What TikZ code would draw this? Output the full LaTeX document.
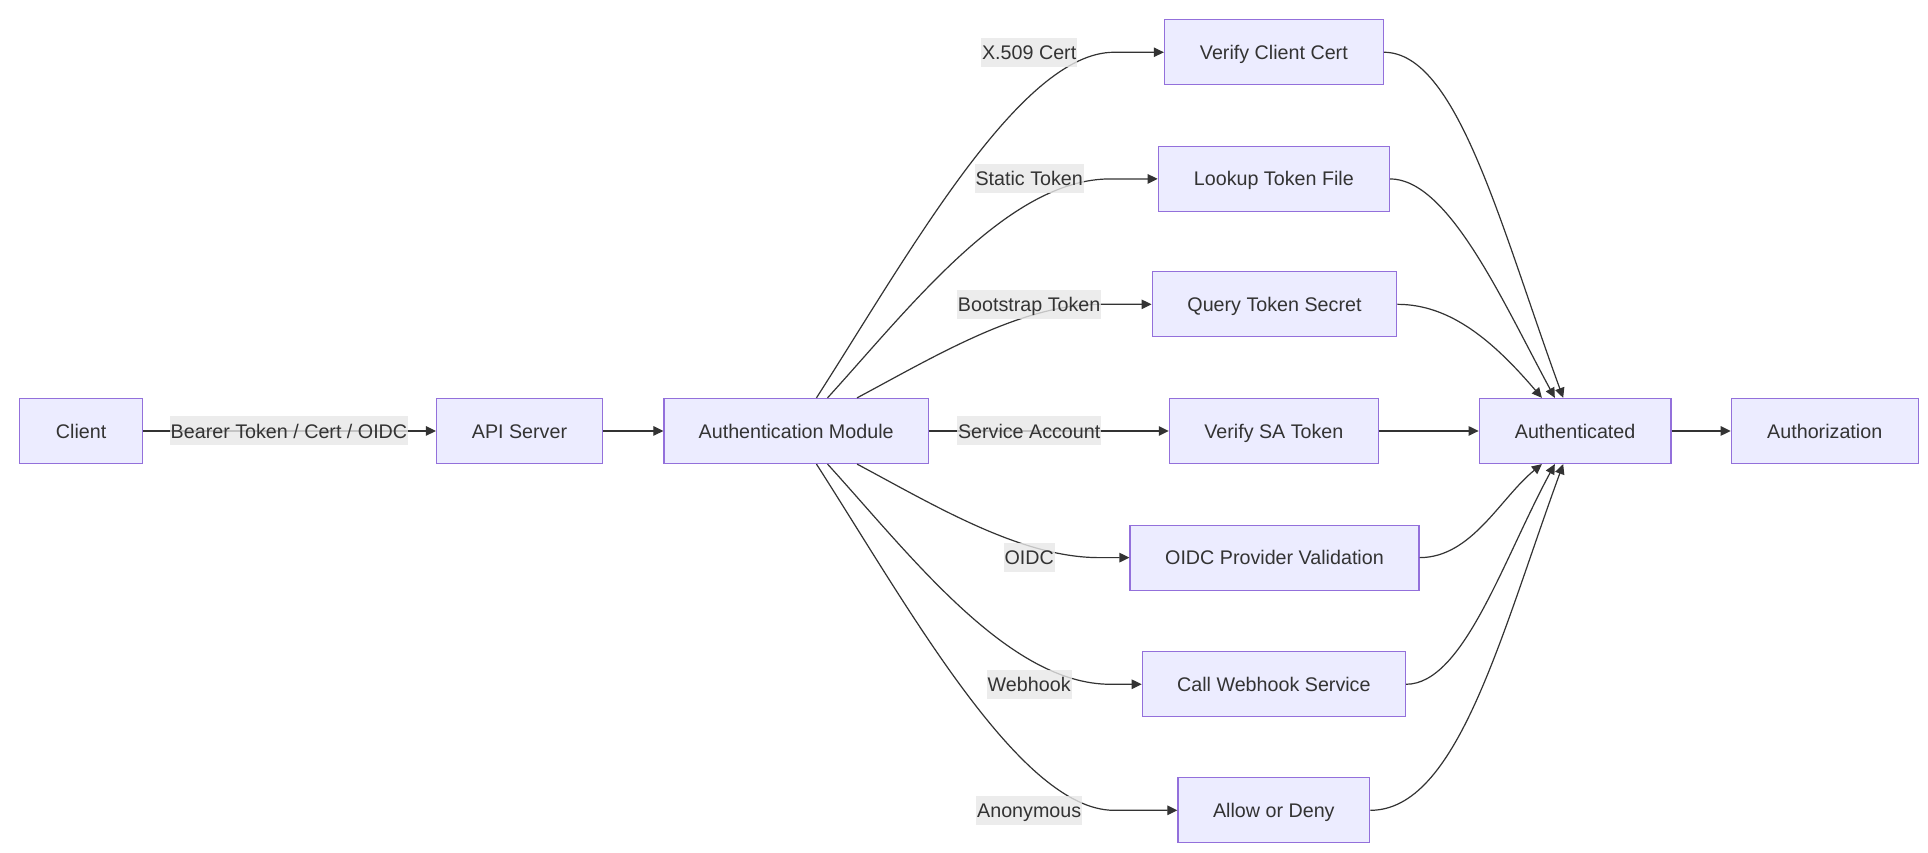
\documentclass[tikz,border=0pt]{standalone}
\usepackage{fontspec}
\setmainfont{Liberation Sans}
\usetikzlibrary{arrows.meta,calc}
\definecolor{nodefill}{HTML}{ECECFF}
\definecolor{nodeline}{HTML}{9370DB}
\definecolor{ink}{HTML}{333333}
\definecolor{lblbg}{HTML}{E8E8E8}
\begin{document}
\begin{tikzpicture}[x=1.2296pt,y=-1.2296pt,
  txt/.style={text=ink,font=\fontsize{19.7pt}{23pt}\selectfont,text height=14.1pt,text depth=0pt},
  box/.style={txt,draw=nodeline,fill=nodefill,line width=1.2pt,minimum height=65pt,inner xsep=0pt,inner ysep=0pt},
  bw/.style={minimum width=#1*1.2296pt},
  lbl/.style={txt,fill=lblbg,fill opacity=0.8,text opacity=1,inner xsep=1pt,inner ysep=0pt,minimum height=29pt},
  edge/.style={draw=ink,line width=1.2pt,-{Triangle[length=10pt,width=9.5pt]}}]
\fill[white] (0,0) rectangle (1568,693);
\useasboundingbox (0,0) rectangle (1568,693);
% nodes
\node[box,bw=100] (cl) at (66,350.5) {Client};
\node[box,bw=135] (api) at (422.5,350.5) {API Server};
\node[box,bw=215] (am) at (647.5,350.5) {Authentication Module};
\node[box,bw=178] (vcc) at (1036,42.5) {Verify Client Cert};
\node[box,bw=188] (ltf) at (1036,145.5) {Lookup Token File};
\node[box,bw=199] (qts) at (1036.5,247.5) {Query Token Secret};
\node[box,bw=170] (vsa) at (1036,350.5) {Verify SA Token};
\node[box,bw=235] (opv) at (1036.5,453.5) {OIDC Provider Validation};
\node[box,bw=214] (cws) at (1036,556.5) {Call Webhook Service};
\node[box,bw=156] (aod) at (1036,659) {Allow or Deny};
\node[box,bw=156] (auth) at (1281,350.5) {Authenticated};
\node[box,bw=152] (authz) at (1484,350.5) {Authorization};
% anchor coordinates
\coordinate (a1) at ($(am.north)+(16.5,0)$);
\coordinate (a2) at ($(am.north)+(25.5,0)$);
\coordinate (a3) at ($(am.north)+(49.5,0)$);
\coordinate (b1) at ($(am.south)+(16.5,0)$);
\coordinate (b2) at ($(am.south)+(25.5,0)$);
\coordinate (b3) at ($(am.south)+(49.5,0)$);
\coordinate (t1) at ($(auth.north)+(-9.7,0)$);
\coordinate (t2) at ($(auth.north)+(-16.5,0)$);
\coordinate (t3) at ($(auth.north)+(-27,0)$);
\coordinate (u1) at ($(auth.south)+(-9.7,0)$);
\coordinate (u2) at ($(auth.south)+(-16.5,0)$);
\coordinate (u3) at ($(auth.south)+(-27,0)$);
% straight edges
\draw[edge] (cl.east) -- (api.west);
\draw[edge] (api.east) -- (am.west);
\draw[edge] (am.east) -- (vsa.west);
\draw[edge] (vsa.east) -- (auth.west);
\draw[edge] (auth.east) -- (authz.west);
% fan-out curves
\draw[edge] (a1) .. controls (740,205) and (830,42.5) .. (906,42.5) -- (vcc.west);
\draw[edge] (a2) .. controls (740,250) and (820,145.5) .. (903,145.5) -- (ltf.west);
\draw[edge] (a3) .. controls (760,290) and (830,247.5) .. (894,247.5) -- (qts.west);
\draw[edge] (b3) .. controls (760,411) and (830,453.5) .. (894,453.5) -- (opv.west);
\draw[edge] (b2) .. controls (740,451) and (820,556.5) .. (903,556.5) -- (cws.west);
\draw[edge] (b1) .. controls (740,496) and (830,659) .. (906,659) -- (aod.west);
% fan-in curves
\draw[edge] (vcc.east) .. controls (1185,42.5) and (1220,183) .. (t1);
\draw[edge] (ltf.east) .. controls (1178,145.5) and (1222,245) .. (t2);
\draw[edge] (qts.east) .. controls (1180,247.5) and (1215,278) .. (t3);
\draw[edge] (opv.east) .. controls (1197,453.5) and (1220,405) .. (u3);
\draw[edge] (cws.east) .. controls (1190,556.5) and (1222,456) .. (u2);
\draw[edge] (aod.east) .. controls (1185,659) and (1220,518) .. (u1);
% edge labels
\node[lbl] (l0) at (235,350.5) {Bearer Token / Cert / OIDC};
\node[lbl] (l1) at (837,42.5) {X.509 Cert};
\node[lbl] (l2) at (837,145.5) {Static Token};
\node[lbl] (l3) at (837,247.5) {Bootstrap Token};
\node[lbl] (l4) at (837,350.5) {Service Account};
\node[lbl] (l5) at (837,453.5) {OIDC};
\node[lbl] (l6) at (837,556.5) {Webhook};
\node[lbl] (l7) at (837,659) {Anonymous};
\end{tikzpicture}
\end{document}
